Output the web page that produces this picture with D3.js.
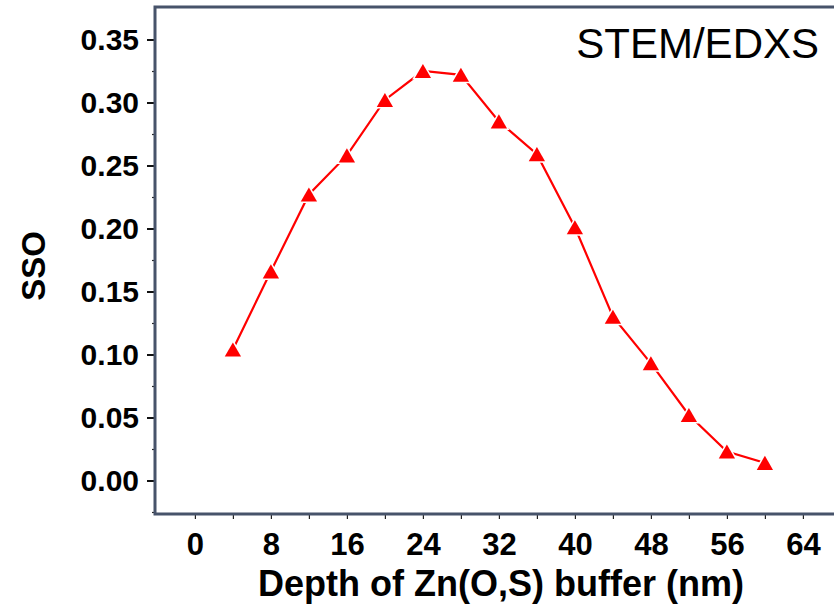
<!DOCTYPE html>
<html>
<head>
<meta charset="utf-8">
<script src="https://cdn.jsdelivr.net/npm/d3@7"></script>
<style>
  body { margin: 0; background: #fff; }
  svg { display: block; }
</style>
</head>
<body>
<div id="chart"></div>
<script>
// data
var depth = [4, 8, 12, 16, 20, 24, 28, 32, 36, 40, 44, 48, 52, 56, 60];
var sso = [0.104, 0.166, 0.227, 0.258, 0.302, 0.325, 0.322, 0.285, 0.259, 0.201, 0.130, 0.093, 0.052, 0.023, 0.014];
var xTicks = [0, 8, 16, 24, 32, 40, 48, 56, 64];
var xMinorTicks = [4, 12, 20, 28, 36, 44, 52, 60];
var yTicks = [0.00, 0.05, 0.10, 0.15, 0.20, 0.25, 0.30, 0.35];
var yMinorTicks = [-0.025, 0.025, 0.075, 0.125, 0.175, 0.225, 0.275, 0.325];

var svgWidth = 834;
var svgHeight = 607;

var margin = {
  top: 7,
  left: 155,
  bottom: 93
};

var plotBottom = svgHeight - margin.bottom;

var svg = d3.select("#chart")
  .append("svg")
  .attr("width", svgWidth)
  .attr("height", svgHeight);

// x runs off the right edge of the picture, like the original
var xScale = d3.scaleLinear()
  .domain([-4.2, 68])
  .range([margin.left, margin.left + 72.2 * 9.5]);

var yScale = d3.scaleLinear()
  .domain([-0.0266, 0.3758])
  .range([plotBottom, margin.top]);

var axisColor = "#47536a";
var font = "Arial, 'Liberation Sans', sans-serif";

// minor ticks
svg.append("g")
  .attr("transform", `translate(${margin.left}, 0)`)
  .call(d3.axisLeft(yScale).tickValues(yMinorTicks).tickSize(3).tickFormat(""))
  .call(g => g.select(".domain").remove())
  .selectAll("line").attr("stroke", "#222").attr("stroke-width", 1.2);

svg.append("g")
  .attr("transform", `translate(0, ${plotBottom})`)
  .call(d3.axisBottom(xScale).tickValues(xMinorTicks).tickSize(5).tickFormat(""))
  .call(g => g.select(".domain").remove())
  .selectAll("line").attr("stroke", "#222").attr("stroke-width", 1.2);

// y axis
var yAxis = svg.append("g")
  .attr("transform", `translate(${margin.left}, 0)`)
  .call(d3.axisLeft(yScale).tickValues(yTicks).tickSize(8).tickPadding(8).tickFormat(d3.format(".2f")));
yAxis.select(".domain").remove();
yAxis.selectAll("line").attr("stroke", "#111").attr("stroke-width", 2);
yAxis.selectAll("text")
  .attr("font-family", font)
  .attr("font-weight", "bold")
  .attr("font-size", "30px")
  .attr("fill", "#000")
  .attr("dy", "0.33em");

// x axis
var xAxis = svg.append("g")
  .attr("transform", `translate(0, ${plotBottom})`)
  .call(d3.axisBottom(xScale).tickValues(xTicks).tickSize(5).tickPadding(14));
xAxis.select(".domain").remove();
xAxis.selectAll("line").attr("stroke", "#222").attr("stroke-width", 1.2);
xAxis.selectAll("text")
  .attr("font-family", font)
  .attr("font-weight", "bold")
  .attr("font-size", "31px")
  .attr("fill", "#000")
  .attr("dy", "0.71em");

// frame: left, bottom and top, no right edge in view
svg.append("path")
  .attr("d", `M${svgWidth + 10},${margin.top} H${margin.left} V${plotBottom} H${svgWidth + 10}`)
  .attr("fill", "none")
  .attr("stroke", axisColor)
  .attr("stroke-width", 3);

// series line
var line = d3.line()
  .x((d, i) => xScale(depth[i]))
  .y(d => yScale(d));

svg.append("path")
  .datum(sso)
  .attr("d", line)
  .attr("fill", "none")
  .attr("stroke", "#ff0000")
  .attr("stroke-width", 2.2);

// triangle markers, white halo gives the gap in the line
var triSize = 115;
var triH = Math.sqrt(triSize * 4 / Math.sqrt(3)) * Math.sqrt(3) / 2;
svg.append("g")
  .selectAll("path")
  .data(sso)
  .enter()
  .append("path")
  .attr("d", d3.symbol(d3.symbolTriangle, triSize))
  .attr("transform", (d, i) => `translate(${xScale(depth[i])}, ${yScale(d) + triH / 6})`)
  .attr("fill", "#ff0000")
  .attr("stroke", "#fff")
  .attr("stroke-width", 3)
  .style("paint-order", "stroke");

// axis titles
svg.append("text")
  .attr("x", 501)
  .attr("y", 596)
  .attr("text-anchor", "middle")
  .attr("font-family", font)
  .attr("font-weight", "bold")
  .attr("font-size", "36px")
  .text("Depth of Zn(O,S) buffer (nm)");

svg.append("text")
  .attr("transform", "translate(45, 266) rotate(-90)")
  .attr("text-anchor", "middle")
  .attr("font-family", font)
  .attr("font-weight", "bold")
  .attr("font-size", "33px")
  .text("SSO");

svg.append("text")
  .attr("x", 819)
  .attr("y", 58)
  .attr("text-anchor", "end")
  .attr("font-family", font)
  .attr("font-size", "42px")
  .text("STEM/EDXS");
</script>
</body>
</html>
